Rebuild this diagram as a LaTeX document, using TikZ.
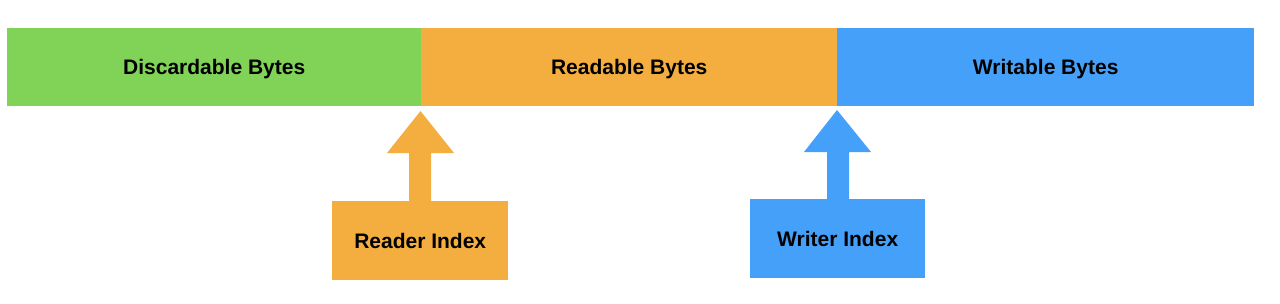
\documentclass[tikz,border=0pt]{standalone}
\usepackage{fontspec}
\setmainfont{Liberation Sans}
\definecolor{cgreen}{HTML}{80D357}
\definecolor{corange}{HTML}{F3AE3F}
\definecolor{cblue}{HTML}{44A0F8}
\begin{document}
\begin{tikzpicture}[x=1pt,y=-1pt,
  seg/.style={fill=#1, draw=none, minimum height=78pt, inner sep=0pt, text depth=0pt, font=\fontsize{21}{24}\selectfont\bfseries},
  idx/.style={fill=#1, draw=none, inner sep=0pt, text depth=0pt, font=\fontsize{21}{24}\selectfont\bfseries}]
\useasboundingbox (0,0) rectangle (1280,303);
\node[seg=cgreen, minimum width=414pt, anchor=north west] (disc) at (7,28) {Discardable Bytes};
\node[seg=corange, minimum width=416pt, anchor=north west] (read) at (421,28) {Readable Bytes};
\node[seg=cblue, minimum width=417pt, anchor=north west] (writ) at (837,28) {Writable Bytes};
\node[idx=corange, minimum width=176pt, minimum height=79pt, anchor=north west] (ri) at (332,201) {Reader Index};
\node[idx=cblue, minimum width=175pt, minimum height=79pt, anchor=north west] (wi) at (750,199) {Writer Index};
\coordinate (rtip) at (420.5,111);
\coordinate (wtip) at (837,110);
\fill[corange] (rtip) -- (454,153) -- (431,153) -- (431,201.5) -- (409,201.5) -- (409,153) -- (387,153) -- cycle;
\fill[cblue] (wtip) -- (871,152) -- (849,152) -- (849,199.5) -- (827,199.5) -- (827,152) -- (804,152) -- cycle;
\end{tikzpicture}
\end{document}
